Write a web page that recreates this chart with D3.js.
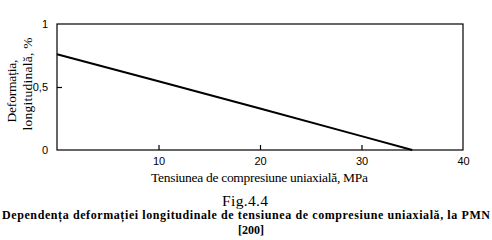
<!DOCTYPE html>
<html>
<head>
<meta charset="utf-8">
<script src="https://cdn.jsdelivr.net/npm/d3@7"></script>
<style>
  body { margin: 0; background: #fff; }
  svg { display: block; }
</style>
</head>
<body>
<script>
var width = 492;
var height = 240;

// values
var stress = [0, 10, 20, 30, 35];
var strain = [0.76, 0.545, 0.33, 0.11, 0];
var xTicks = [10, 20, 30, 40];
var yTicks = [0, 0.5, 1];
var yTickLabels = ["0", "0,5", "1"];

var margin = {left: 57, right: 29, top: 24, bottom: 90};

var svg = d3.select("body").append("svg")
	.attr("width", width)
	.attr("height", height);

var x = d3.scaleLinear().domain([0, 40]).range([margin.left, width - margin.right]);
var y = d3.scaleLinear().domain([0, 1]).range([height - margin.bottom, margin.top]);

// frame
svg.append("rect")
	.attr("x", x(0)).attr("y", y(1))
	.attr("width", x(40) - x(0)).attr("height", y(0) - y(1))
	.attr("fill", "none").attr("stroke", "#000").attr("stroke-width", 1.2);

// x axis, ticks pointing inward
var xAxis = svg.append("g")
	.attr("transform", "translate(0," + y(0) + ")")
	.call(d3.axisBottom(x).tickValues(xTicks).tickSizeInner(-5).tickSizeOuter(0).tickPadding(7));
xAxis.select(".domain").remove();
xAxis.selectAll("line").attr("stroke-width", 1.2);
xAxis.selectAll("text").attr("font-family", "Liberation Sans, Arial, sans-serif").attr("font-size", 11).attr("fill", "#000");
xAxis.selectAll(".tick").filter(function(d) { return d == 40; }).select("line").remove();

// y axis
var yAxis = svg.append("g")
	.attr("transform", "translate(" + x(0) + ",0)")
	.call(d3.axisLeft(y).tickValues(yTicks)
		.tickFormat(function(d, i) { return yTickLabels[i]; })
		.tickSizeInner(-5).tickSizeOuter(0).tickPadding(9));
yAxis.select(".domain").remove();
yAxis.selectAll("line").attr("stroke-width", 1.2);
yAxis.selectAll("text").attr("font-family", "Liberation Sans, Arial, sans-serif").attr("font-size", 11).attr("fill", "#000");
yAxis.selectAll(".tick").filter(function(d) { return d == 0 || d == 1; }).select("line").remove();

// data line
var line = d3.line()
	.x(function(d) { return x(d[0]); })
	.y(function(d) { return y(d[1]); });

svg.append("path")
	.datum(d3.zip(stress, strain))
	.attr("d", line)
	.attr("fill", "none")
	.attr("stroke", "#000")
	.attr("stroke-width", 2);

var serif = "Liberation Serif, Times New Roman, serif";

// y title, two lines
svg.append("text")
	.attr("transform", "translate(16,91) rotate(-90)")
	.attr("text-anchor", "middle")
	.attr("textLength", 63).attr("lengthAdjust", "spacing")
	.attr("font-family", serif).attr("font-size", 13.5)
	.text("Deformația,");
svg.append("text")
	.attr("transform", "translate(32,84) rotate(-90)")
	.attr("text-anchor", "middle")
	.attr("textLength", 93).attr("lengthAdjust", "spacing")
	.attr("font-family", serif).attr("font-size", 13.5)
	.text("longitudinală, %");

// x title
svg.append("text")
	.attr("x", 151).attr("y", 182)
	.attr("textLength", 217).attr("lengthAdjust", "spacing")
	.attr("font-family", serif).attr("font-size", 13.5)
	.text("Tensiunea de compresiune uniaxială, MPa");

// figure label and caption
svg.append("text")
	.attr("x", 222).attr("y", 206)
	.attr("textLength", 46).attr("lengthAdjust", "spacing")
	.attr("font-family", serif).attr("font-size", 15.5)
	.text("Fig.4.4");

svg.append("text")
	.attr("x", 2).attr("y", 219)
	.attr("textLength", 488).attr("lengthAdjust", "spacing")
	.attr("font-family", serif).attr("font-size", 12).attr("font-weight", "bold")
	.text("Dependența deformației longitudinale de tensiunea de compresiune uniaxială, la PMN");

svg.append("text")
	.attr("x", 251).attr("y", 234)
	.attr("text-anchor", "middle")
	.attr("font-family", serif).attr("font-size", 12).attr("font-weight", "bold")
	.text("[200]");
</script>
</body>
</html>
